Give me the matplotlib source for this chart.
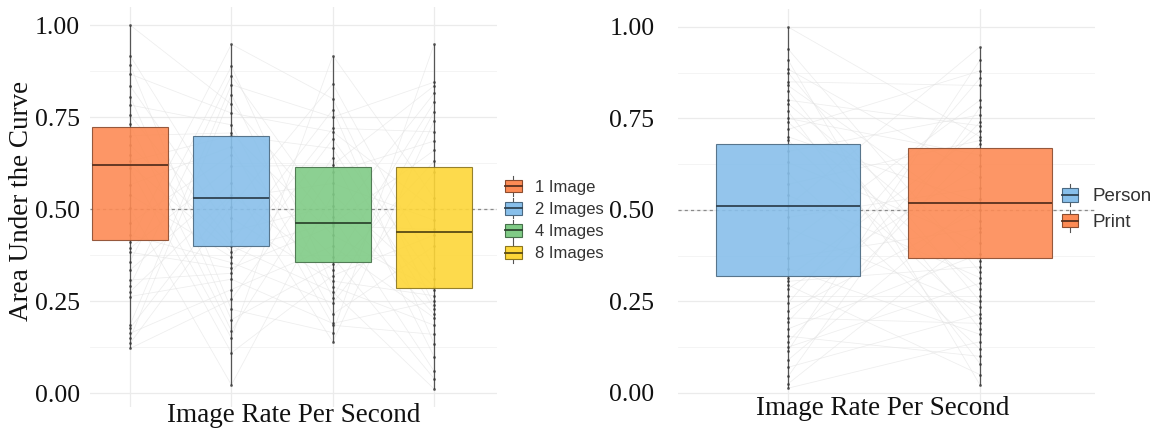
import numpy as np
import matplotlib
matplotlib.use("Agg")
import matplotlib.pyplot as plt
from matplotlib.patches import Patch, Rectangle
from matplotlib.lines import Line2D
from matplotlib.legend_handler import HandlerBase
from matplotlib.ticker import MultipleLocator
import matplotlib.colors as mcolors

# ---------------- data ----------------
left_labels = ["1 Image", "2 Images", "4 Images", "8 Images"]
left_q1 = [0.417, 0.401, 0.356, 0.285]
left_med = [0.620, 0.531, 0.462, 0.439]
left_q3 = [0.724, 0.699, 0.614, 0.614]
left_lo = [0.122, 0.023, 0.140, 0.012]
left_hi = [1.000, 0.948, 0.917, 0.948]

img1 = [1.0, 0.917, 0.892, 0.867, 0.835, 0.806, 0.783, 0.756, 0.73,
        0.70, 0.675, 0.648, 0.63, 0.62, 0.611, 0.566, 0.539, 0.503, 0.462, 0.43,
        0.412, 0.394, 0.383, 0.358, 0.335, 0.308, 0.292, 0.276, 0.263, 0.186,
        0.177, 0.163, 0.149, 0.136, 0.122]
img2 = [0.948, 0.888, 0.863, 0.838, 0.811, 0.785, 0.761, 0.729, 0.707, 0.70,
        0.67, 0.648, 0.616, 0.571, 0.539, 0.531, 0.507, 0.476, 0.44, 0.41,
        0.40, 0.385, 0.37, 0.355, 0.34, 0.326, 0.31, 0.282, 0.255, 0.228,
        0.20, 0.17, 0.15, 0.11, 0.023]
img4 = [0.917, 0.84, 0.80, 0.77, 0.75, 0.72, 0.71, 0.69, 0.665, 0.64, 0.62,
        0.60, 0.57, 0.54, 0.51, 0.48, 0.465, 0.46, 0.455, 0.43, 0.40, 0.37,
        0.35, 0.335, 0.32, 0.305, 0.29, 0.275, 0.26, 0.245, 0.215, 0.19,
        0.185, 0.165, 0.14]
img8 = [0.948, 0.845, 0.835, 0.815, 0.79, 0.765, 0.74, 0.71, 0.685, 0.66, 0.63,
        0.60, 0.53, 0.50, 0.47, 0.445, 0.43, 0.40, 0.34, 0.31, 0.29,
        0.28, 0.265, 0.25, 0.24, 0.23, 0.215, 0.205, 0.185, 0.16, 0.135,
        0.10, 0.06, 0.04, 0.012]
left_points = [img1, img2, img4, img8]

right_labels = ["Person", "Print"]
right_q1 = [0.320, 0.368]
right_med = [0.511, 0.520]
right_q3 = [0.680, 0.670]
right_lo = [0.013, 0.022]
right_hi = [1.000, 0.946]

person = [1.0, 0.94, 0.91, 0.885, 0.875, 0.85, 0.84, 0.825, 0.80, 0.79, 0.77,
          0.75, 0.74, 0.72, 0.70, 0.69,
          0.66, 0.63, 0.60, 0.57, 0.54, 0.51, 0.48, 0.45, 0.41, 0.37, 0.34,
          0.315, 0.305, 0.295, 0.285, 0.265, 0.245, 0.225, 0.205, 0.195, 0.175,
          0.155, 0.14, 0.125, 0.115, 0.09, 0.07, 0.045, 0.025, 0.013]
printed = [0.946, 0.91, 0.88, 0.86, 0.84, 0.80, 0.78, 0.76, 0.74, 0.73, 0.715,
           0.70, 0.69, 0.68,
           0.65, 0.62, 0.59, 0.56, 0.53, 0.52, 0.50, 0.47, 0.45, 0.44, 0.41, 0.38,
           0.36, 0.345, 0.33, 0.315, 0.30, 0.285, 0.265, 0.25, 0.235, 0.215,
           0.205, 0.19, 0.175, 0.16, 0.14, 0.12, 0.10, 0.08, 0.05, 0.022]
right_points = [person, printed]

left_colors = ["#FD8B55", "#88BFEA", "#80CB86", "#FDD638"]
right_colors = ["#88BFEA", "#FD8B55"]

# ---------------- helpers ----------------
def darker(c, f):
    r, g, b = mcolors.to_rgb(c)
    return (r * f, g * f, b * f)


class BoxHandler(HandlerBase):
    def create_artists(self, legend, orig_handle, xdescent, ydescent,
                       width, height, fontsize, trans):
        fc = orig_handle.get_facecolor()
        x0, y0 = -xdescent, -ydescent
        cx = x0 + width / 2
        arts = []
        arts.append(Line2D([cx, cx], [y0 - height * 0.3, y0 + height * 1.3],
                           color="#555555", lw=0.8, transform=trans))
        arts.append(Rectangle((x0, y0), width, height, facecolor=fc,
                              edgecolor=darker(fc, 0.55), lw=0.8,
                              transform=trans))
        arts.append(Line2D([x0, x0 + width], [y0 + height / 2] * 2,
                           color=darker(fc, 0.35), lw=1.3, transform=trans))
        return arts


def draw_panel(ax, pts, q1, med, q3, lo, hi, colors, xlim, order_steps):
    n_cat = len(pts)
    xs = np.arange(n_cat)
    ax.set_xlim(*xlim)
    ax.set_ylim(-0.037, 1.049)
    # grid
    ax.yaxis.set_major_locator(MultipleLocator(0.25))
    ax.yaxis.set_minor_locator(MultipleLocator(0.125))
    ax.set_xticks(xs)
    ax.grid(True, which="major", color="#EBEBEB", lw=0.9, zorder=0)
    ax.grid(True, which="minor", axis="y", color="#F3F3F3", lw=0.6, zorder=0)
    ax.set_axisbelow(True)
    ax.tick_params(axis="both", which="both", length=0)
    ax.tick_params(axis="x", labelbottom=False)
    for s in ax.spines.values():
        s.set_visible(False)
    # reference line
    ax.axhline(0.5, color="#8A8A8A", lw=0.9, ls=(0, (2.5, 2.5)), zorder=1.2)
    # subject lines (pairing order per condition)
    n = len(pts[0])
    sorted_pts = [np.sort(np.array(p))[::-1] for p in pts]
    subj = np.zeros((n, n_cat))
    for k in range(n_cat):
        a, b = order_steps[k]
        idx = [(i * a + b) % n for i in range(n)]
        subj[:, k] = sorted_pts[k][idx]
    for i in range(n):
        ax.plot(xs, subj[i], color="#E2E2E2", lw=0.55, alpha=0.6, zorder=1.1)
    # whisker lines
    ax.vlines(xs, lo, hi, color="#555555", lw=0.9, zorder=2)
    # points
    for k in range(n_cat):
        ax.scatter(np.full(len(pts[k]), xs[k]), pts[k], s=4, color="#333333",
                   alpha=0.75, lw=0, zorder=2.2)
    # boxes
    stats = [dict(med=med[k], q1=q1[k], q3=q3[k], whislo=lo[k], whishi=hi[k],
                  fliers=[]) for k in range(n_cat)]
    bp = ax.bxp(stats, positions=xs, widths=0.75, patch_artist=True,
                showfliers=False, showcaps=False, manage_ticks=False,
                whiskerprops=dict(lw=0), medianprops=dict(lw=1.3),
                zorder=3)
    for k, patch in enumerate(bp["boxes"]):
        patch.set_facecolor(colors[k])
        patch.set_alpha(0.9)
        patch.set_edgecolor(darker(colors[k], 0.55))
        patch.set_linewidth(0.8)
        patch.set_zorder(3)
    for k, m in enumerate(bp["medians"]):
        m.set_color(darker(colors[k], 0.35))
        m.set_zorder(3.5)
    for lab in ax.get_yticklabels():
        lab.set_fontfamily("Liberation Serif")
        lab.set_fontsize(18.5)
        lab.set_color("#111111")


# ---------------- figure ----------------
W, H = 1172, 430
fig = plt.figure(figsize=(W / 100, H / 100), dpi=100)

def px_axes(x0, x1, ytop, ybot):
    return fig.add_axes([x0 / W, (H - ybot) / H, (x1 - x0) / W, (ybot - ytop) / H])

ax1 = px_axes(90, 497, 7, 407)
ax2 = px_axes(678, 1095, 9, 406.5)

draw_panel(ax1, left_points, left_q1, left_med, left_q3, left_lo, left_hi,
           left_colors, (-0.395, 3.62), [(1, 0), (12, 5), (8, 17), (13, 9)])
draw_panel(ax2, right_points, right_q1, right_med, right_q3, right_lo, right_hi,
           right_colors, (-0.573, 1.599), [(1, 0), (17, 11)])

ax1.tick_params(axis="y", pad=7)
ax2.tick_params(axis="y", pad=17)

serif = {"family": "Liberation Serif", "size": 19.5, "color": "#111111"}
ax1.set_xlabel("Image Rate Per Second", fontdict=serif)
ax1.xaxis.set_label_coords(0.5, -0.02)
ax1.xaxis.label.set_va("center")
ax2.set_xlabel("Image Rate Per Second", fontdict=serif)
ax2.xaxis.set_label_coords(0.49, -0.005)
ax2.xaxis.label.set_va("center")
ax1.set_ylabel("Area Under the Curve", fontdict=serif)
ax1.yaxis.set_label_coords(-0.168, 0.515)
ax1.yaxis.label.set_va("center")

handles1 = [Patch(facecolor=c, label=l) for c, l in zip(left_colors, left_labels)]
leg1 = fig.legend(handles=handles1, loc="center left",
                  bbox_to_anchor=(505 / W, (H - 220.5) / H),
                  frameon=False, handler_map={Patch: BoxHandler()},
                  prop={"family": "Liberation Sans", "size": 12},
                  handlelength=1.0, handleheight=0.8, handletextpad=0.8,
                  labelspacing=0.42, borderpad=0, borderaxespad=0)
for t in leg1.get_texts():
    t.set_color("#333333")

handles2 = [Patch(facecolor=c, label=l) for c, l in zip(right_colors, right_labels)]
leg2 = fig.legend(handles=handles2, loc="center left",
                  bbox_to_anchor=(1062 / W, (H - 209.5) / H),
                  frameon=False, handler_map={Patch: BoxHandler()},
                  prop={"family": "Liberation Sans", "size": 13.5},
                  handlelength=0.85, handleheight=0.75, handletextpad=0.8,
                  labelspacing=0.45, borderpad=0, borderaxespad=0)
for t in leg2.get_texts():
    t.set_color("#333333")

fig.savefig("out.png", dpi=100)
